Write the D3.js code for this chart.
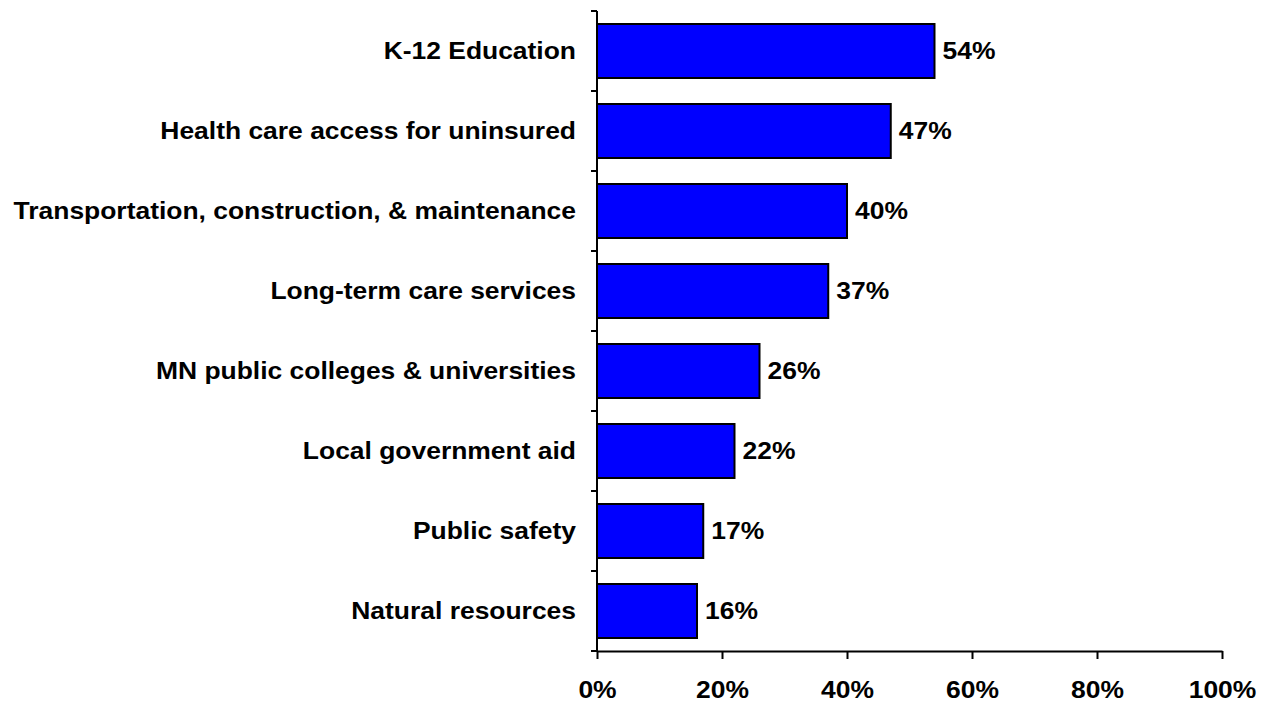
<!DOCTYPE html>
<meta charset="utf-8">
<body style="margin:0;background:#fff">
<script src="https://d3js.org/d3.v7.min.js"></script>
<div id="chart"></div>
<script>

// categories, top to bottom
var categories = ["K-12 Education",
                  "Health care access for uninsured",
                  "Transportation, construction, & maintenance",
                  "Long-term care services",
                  "MN public colleges & universities",
                  "Local government aid",
                  "Public safety",
                  "Natural resources"];
var values = [54, 47, 40, 37, 26, 22, 17, 16];
var xTicks = [0, 20, 40, 60, 80, 100];

var W = 1269, H = 702;
var margin = {top: 11, right: 47, bottom: 51, left: 597},
    width = W - margin.left - margin.right,
    height = H - margin.top - margin.bottom;

var font = "'Liberation Sans', Arial, sans-serif";
var stretch = 1.15; // the original text is a bit wider than Liberation Sans

var x = d3.scaleLinear().domain([0, 100]).range([0, width]);
var y = d3.scaleBand().domain(categories).range([0, height]).paddingInner(0.325).paddingOuter(0.1625);

var svg = d3.select("#chart").append("svg")
    .attr("width", W).attr("height", H)
  .append("g")
    .attr("transform", "translate(" + margin.left + "," + margin.top + ")");

function styleText(sel) {
  sel.style("font-family", font)
     .style("font-weight", "bold")
     .style("font-size", "23px")
     .style("fill", "#000");
}
function place(px, py) {
  return "translate(" + px + "," + py + ") scale(" + stretch + ",1)";
}

// bars
svg.selectAll(".bar")
  .data(values)
  .enter().append("rect")
    .attr("class", "bar")
    .attr("x", x(0))
    .attr("y", function(d, i) { return y(categories[i]); })
    .attr("width", function(d) { return x(d) - x(0); })
    .attr("height", y.bandwidth())
    .style("fill", "#0000ff")
    .style("stroke", "#000")
    .style("stroke-width", 2);

// value labels
svg.selectAll(".val")
  .data(values)
  .enter().append("text")
    .attr("class", "val")
    .attr("transform", function(d, i) {
      return place(x(d) + 8, y(categories[i]) + y.bandwidth() / 2 + 8);
    })
    .call(styleText)
    .text(function(d) { return d + "%"; });

// category labels
svg.selectAll(".cat")
  .data(categories)
  .enter().append("text")
    .attr("class", "cat")
    .attr("transform", function(d) { return place(-21, y(d) + y.bandwidth() / 2 + 8); })
    .attr("text-anchor", "end")
    .call(styleText)
    .text(function(d) { return d; });

// y axis line with ticks between categories
var step = y.step();
svg.append("line")
    .attr("x1", 0).attr("x2", 0)
    .attr("y1", 0).attr("y2", height)
    .style("stroke", "#000").style("stroke-width", 2);
svg.selectAll(".ytick")
  .data(d3.range(categories.length + 1))
  .enter().append("line")
    .attr("x1", -6).attr("x2", 0)
    .attr("y1", function(i) { return i * step; })
    .attr("y2", function(i) { return i * step; })
    .style("stroke", "#000").style("stroke-width", 2);

// x axis
var xAxis = svg.append("g")
    .attr("transform", "translate(0," + height + ")")
    .call(d3.axisBottom(x).tickValues(xTicks).tickSize(8).tickSizeOuter(0)
          .tickFormat(function(d) { return d + "%"; }));
xAxis.select(".domain").style("stroke-width", 2);
xAxis.selectAll(".tick line").style("stroke-width", 2);
xAxis.selectAll("text")
    .attr("y", null)
    .attr("dy", null)
    .attr("transform", place(0, 47))
    .call(styleText);

</script>
</body>
